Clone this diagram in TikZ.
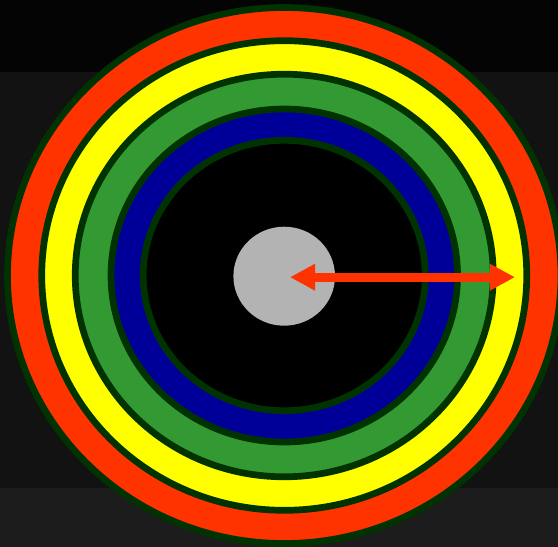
\documentclass[tikz,border=0pt]{standalone}
\usetikzlibrary{arrows.meta}
\definecolor{bgtop}{HTML}{040404}
\definecolor{bgmid}{HTML}{121212}
\definecolor{bgbot}{HTML}{1C1C1C}
\definecolor{rimgreen}{HTML}{003300}
\definecolor{ringorange}{HTML}{FF3300}
\definecolor{ringyellow}{HTML}{FFFF00}
\definecolor{ringgreen}{HTML}{339933}
\definecolor{ringblue}{HTML}{000099}
\definecolor{hubgrey}{HTML}{B3B3B3}
\tikzset{
  ring/.style={draw=rimgreen, line width=6.7pt},
  radiusarrow/.style={draw=ringorange, line width=9pt,
    {Triangle[length=25pt,width=25pt]}-{Triangle[length=25pt,width=25pt]}}
}
\begin{document}
\begin{tikzpicture}[x=1pt,y=-1pt]
\useasboundingbox (0,0) rectangle (558,547);
\clip (0,0) rectangle (558,547);
\fill[bgmid] (0,0) rectangle (558,547);
\fill[bgtop] (0,0) rectangle (558,72);
\fill[bgbot] (0,488) rectangle (558,547);
\coordinate (c) at (284.25,275.5);
\path[ring, fill=ringorange] (c) ellipse [x radius=276.75pt, y radius=268pt];
\path[ring, fill=ringyellow] (c) ellipse [x radius=242.5pt, y radius=234.8pt];
\path[ring, fill=ringgreen] (c) ellipse [x radius=209pt, y radius=201.3pt];
\path[ring, fill=ringblue] (c) ellipse [x radius=173.25pt, y radius=166.5pt];
\path[ring, fill=black] (c) ellipse [x radius=141pt, y radius=135.2pt];
\fill[hubgrey] (284.2,276.2) ellipse [x radius=50.8pt, y radius=49.5pt];
\coordinate (a) at (290,277.2);
\coordinate (b) at (515,277.2);
\draw[radiusarrow] (a) -- (b);
\end{tikzpicture}
\end{document}
